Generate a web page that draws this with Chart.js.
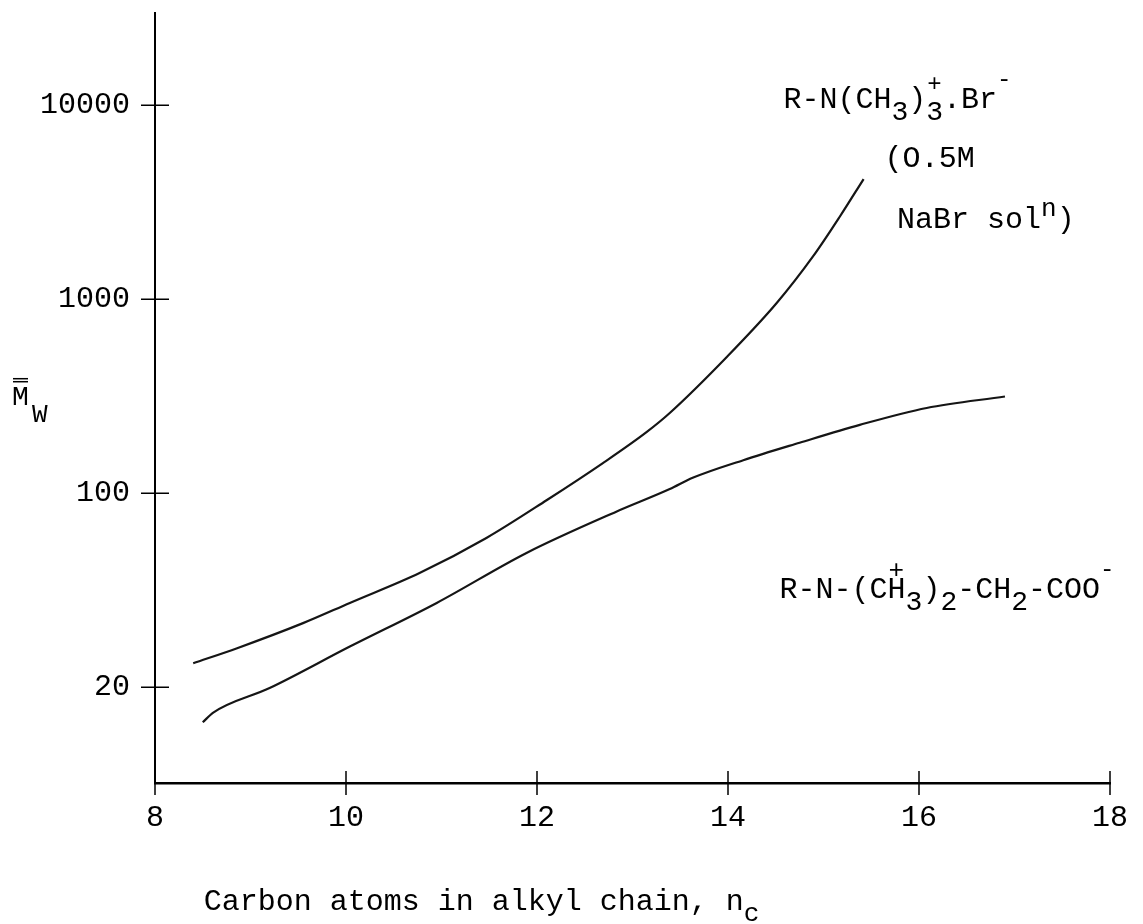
<!DOCTYPE html>
<html>
<head>
<meta charset="utf-8">
<script src="https://cdn.jsdelivr.net/npm/chart.js@4.4.1/dist/chart.umd.min.js"></script>
<style>
  html, body { margin: 0; padding: 0; background: #fff; }
  #wrap { position: relative; width: 1143px; height: 924px; }
</style>
</head>
<body>
<div id="wrap"><canvas id="mw-chart"></canvas></div>
<script>
// carbon atoms n_c vs weight-average aggregation number
const ctabNc = [8.40, 8.86, 9.55, 10.04, 10.77, 11.47, 12.10, 12.69, 13.15, 13.39, 13.99, 14.51, 14.89, 15.17, 15.42];
const ctabMw = [13.3, 15.9, 21.4, 27.2, 38.8, 58.8, 92, 143, 207, 259, 505, 955, 1660, 2660, 4160];

const betaineNc = [8.50, 8.61, 9.20, 10.04, 10.95, 11.89, 12.83, 13.39, 13.63, 14.16, 14.75, 15.38, 16.08, 16.90];
const betaineMw = [6.6, 7.4, 9.9, 16.2, 27.2, 49.2, 80.3, 105, 120, 148, 182, 225, 275, 315];

const xTicks = [8, 10, 12, 14, 16, 18];
const yTickValues = [10, 100, 1000, 10000];
const yTickLabels = ['20', '100', '1000', '10000'];   // bottom tick is printed "20" in the original

const FONT = '"Liberation Mono", "DejaVu Sans Mono", monospace';

function toPoints(xs, ys) {
    return xs.map((x, i) => ({ x, y: ys[i] }));
}

// draw a run of typewriter text with sub/superscripts
function drawRuns(ctx, x, y, runs) {
    let cx = x;
    runs.forEach(r => {
        ctx.font = `${r.size || 30}px ${FONT}`;
        ctx.fillText(r.t, cx + (r.dx || 0), y + (r.dy || 0));
        if (!r.hold) cx += ctx.measureText(r.t).width;
    });
}

const crossTicks = {
    id: 'crossTicks',
    afterDraw(chart) {
        const { ctx, chartArea, scales: { x, y } } = chart;
        ctx.save();
        ctx.strokeStyle = '#000';
        ctx.lineWidth = 1.5;
        ctx.beginPath();
        xTicks.forEach(v => {
            const px = x.getPixelForValue(v);
            ctx.moveTo(px, chartArea.bottom - 12);
            ctx.lineTo(px, chartArea.bottom + 12);
        });
        yTickValues.forEach(v => {
            const py = y.getPixelForValue(v);
            ctx.moveTo(chartArea.left - 14, py);
            ctx.lineTo(chartArea.left + 14, py);
        });
        ctx.stroke();
        ctx.restore();
    }
};

const labels = {
    id: 'labels',
    afterDraw(chart) {
        const { ctx, chartArea, scales: { x, y } } = chart;
        ctx.save();
        ctx.fillStyle = '#000';
        ctx.textBaseline = 'alphabetic';
        ctx.textAlign = 'left';

        drawRuns(ctx, x.getPixelForValue(14.58), y.getPixelForValue(9700), [
            { t: 'R-N(CH' }, { t: '3', dy: 12, size: 28 }, { t: ')' },
            { t: '+', dy: -17, size: 24, hold: true, dx: 1 }, { t: '3', dy: 12, size: 28 },
            { t: '.Br' }, { t: '-', dy: -22, size: 24 }
        ]);
        drawRuns(ctx, x.getPixelForValue(15.64), y.getPixelForValue(4800), [{ t: '(O.5M' }]);
        drawRuns(ctx, x.getPixelForValue(15.77), y.getPixelForValue(2330), [
            { t: 'NaBr sol' }, { t: 'n', dy: -12, size: 26 }, { t: ')' }
        ]);

        drawRuns(ctx, x.getPixelForValue(14.54), y.getPixelForValue(28.8), [
            { t: 'R-N-(C' }, { t: '+', dy: -20, size: 26, hold: true, dx: 1 }, { t: 'H' },
            { t: '3', dy: 12, size: 28 }, { t: ')' }, { t: '2', dy: 12, size: 28 },
            { t: '-CH' }, { t: '2', dy: 12, size: 28 }, { t: '-COO' },
            { t: '-', dy: -22, size: 24 }
        ]);

        // axis titles
        drawRuns(ctx, x.getPixelForValue(8.51), chartArea.bottom + 127, [
            { t: 'Carbon atoms in alkyl chain, n' }, { t: 'c', dy: 11, size: 26 }
        ]);
        const my = y.getPixelForValue(285);
        drawRuns(ctx, chartArea.left - 143, my, [{ t: 'M', size: 28 }]);
        drawRuns(ctx, chartArea.left - 123, my + 17, [{ t: 'W', size: 26 }]);
        ctx.fillRect(chartArea.left - 142, my - 27, 15, 1.5);
        ctx.fillRect(chartArea.left - 142, my - 24, 15, 1.5);
        ctx.restore();
    }
};

const lineStyle = {
    borderColor: '#151515',
    borderWidth: 2.2,
    pointRadius: 0,
    fill: false,
    cubicInterpolationMode: 'monotone'
};

new Chart(document.getElementById('mw-chart'), {
    type: 'line',
    data: {
        datasets: [
            { label: 'R-N(CH3)3+ Br- (0.5M NaBr)', data: toPoints(ctabNc, ctabMw), ...lineStyle },
            { label: 'R-N+(CH3)2-CH2-COO-', data: toPoints(betaineNc, betaineMw), ...lineStyle }
        ]
    },
    options: {
        responsive: true,
        maintainAspectRatio: false,
        animation: false,
        layout: { padding: { left: 0, right: 33, top: 13, bottom: 0 } },
        plugins: { legend: { display: false }, tooltip: { enabled: false } },
        scales: {
            x: {
                type: 'linear',
                min: 8, max: 18,
                afterFit: s => { s.height = 141; s.paddingLeft = 0; s.paddingRight = 0; },
                afterBuildTicks: s => { s.ticks = xTicks.map(v => ({ value: v })); },
                grid: { display: false },
                border: { display: true, color: '#000', width: 2.5 },
                ticks: { color: '#000', padding: 9, font: { family: FONT, size: 30 }, maxRotation: 0 }
            },
            y: {
                type: 'logarithmic',
                min: 3.21, max: 29850,
                afterFit: s => { s.width = 155; s.paddingTop = 0; s.paddingBottom = 0; },
                afterBuildTicks: s => { s.ticks = yTickValues.map(v => ({ value: v })); },
                grid: { display: false },
                border: { display: true, color: '#000', width: 2 },
                ticks: {
                    color: '#000', padding: 17, font: { family: FONT, size: 30 },
                    callback: v => yTickLabels[yTickValues.indexOf(v)]
                }
            }
        }
    },
    plugins: [crossTicks, labels]
});
</script>
</body>
</html>
